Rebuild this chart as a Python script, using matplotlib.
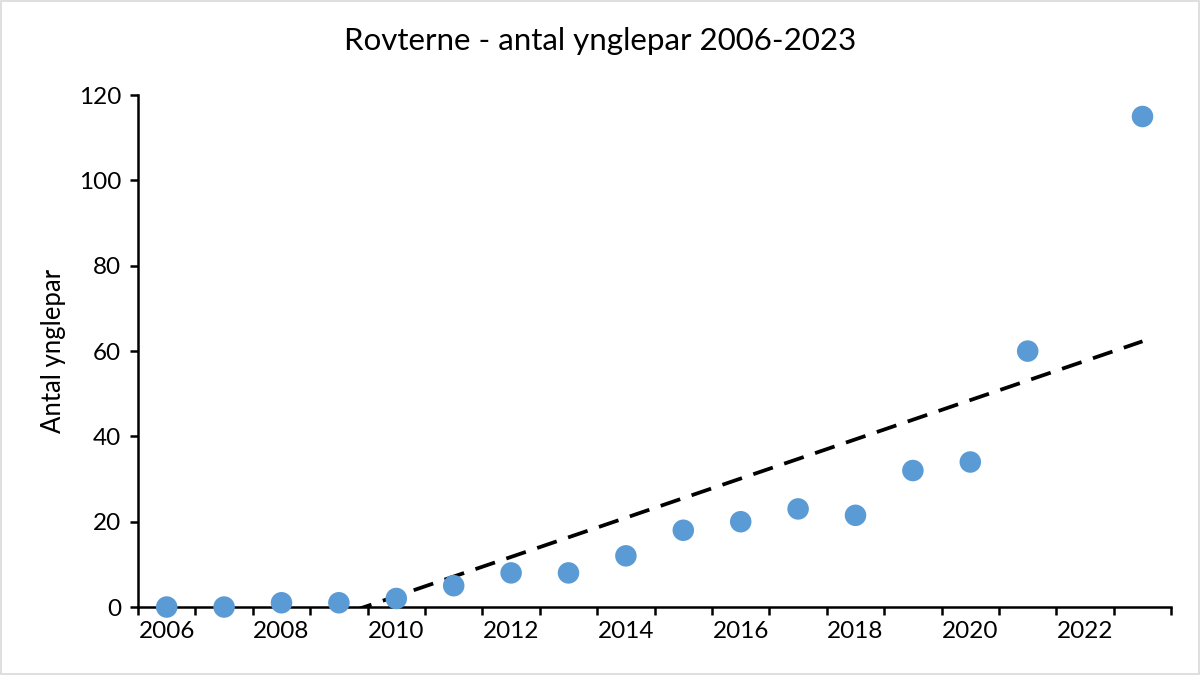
import numpy as np
import matplotlib.pyplot as plt
from matplotlib.patches import Rectangle

# breeding pairs per year (2022 missing in source)
years = [2006, 2007, 2008, 2009, 2010, 2011, 2012, 2013, 2014, 2015,
         2016, 2017, 2018, 2019, 2020, 2021, 2023]
pairs = [0, 0, 1, 1, 2, 5, 8, 8, 12, 18, 20, 23, 21.5, 32, 34, 60, 115]
tick_years = [2006, 2008, 2010, 2012, 2014, 2016, 2018, 2020, 2022]
y_ticks = [0, 20, 40, 60, 80, 100, 120]

BLUE = "#5B9BD5"
plt.rcParams["font.family"] = ["Lato", "DejaVu Sans"]

fig = plt.figure(figsize=(12, 6.75), dpi=100)
ax = fig.add_axes([0.115, 0.1007, 0.861, 0.7583])

ax.scatter(years, pairs, s=240, c=BLUE, edgecolors="none", zorder=3, clip_on=False)

# linear trend line (least squares), clipped at y=0 by the axes
z = np.polyfit(years, pairs, 1)
xs = np.linspace(2006, 2023, 200)
ax.plot(xs, np.polyval(z, xs), c="black", lw=2.7, dashes=(5.5, 3.2), zorder=2)

ax.set_xlim(2005.5, 2023.5)
ax.set_ylim(0, 120)
ax.set_xticks(tick_years)
ax.set_xticklabels([str(t) for t in tick_years])
ax.set_xticks(np.arange(2005.5, 2024, 1), minor=True)
ax.tick_params(axis="x", which="major", length=0, labelsize=17.5, pad=10)
ax.tick_params(axis="x", which="minor", length=6, width=1.8, direction="out")
ax.set_yticks(y_ticks)
ax.tick_params(axis="y", length=6, width=1.8, labelsize=17.5, pad=6)

for s in ["top", "right"]:
    ax.spines[s].set_visible(False)
for s in ["left", "bottom"]:
    ax.spines[s].set_linewidth(1.8)

ax.set_ylabel("Antal ynglepar", fontsize=18.5, labelpad=9)
fig.suptitle("Rovterne - antal ynglepar 2006-2023", fontsize=22.5, y=0.96)

fig.patches.append(Rectangle((0.001, 0.001), 0.998, 0.998, transform=fig.transFigure,
                             fill=False, edgecolor="#d9d9d9", lw=1.2))

fig.savefig("out.png", dpi=100)
